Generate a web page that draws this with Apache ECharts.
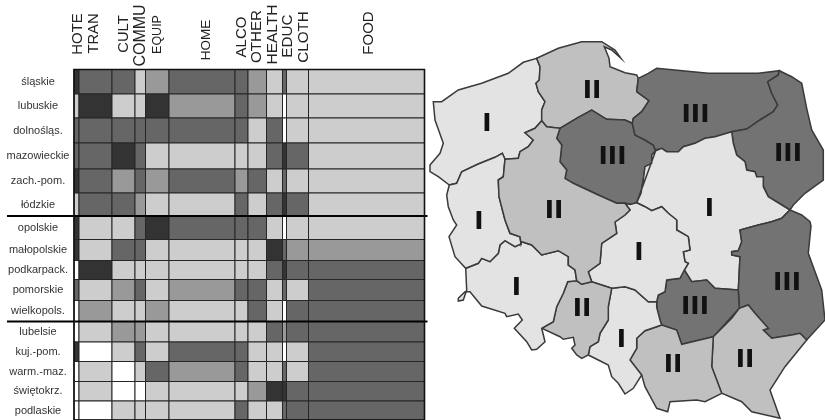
<!DOCTYPE html>
<html><head><meta charset="utf-8">
<style>html,body{margin:0;padding:0;background:#fff}#c{width:825px;height:420px}</style>
<script src="https://cdn.jsdelivr.net/npm/echarts@6/dist/echarts.min.js"></script>
</head><body><div id="c"></div>
<script>
const colNames=['HOTE','TRAN','CULT','COMMU','EQUIP','HOME','ALCO','OTHER','HEALTH','EDUC','CLOTH','FOOD'];
const colWeights=[5,33,23,10.5,23.5,66,13,18.5,16,4,22,116];
const rowNames=['śląskie','lubuskie','dolnośląs.','mazowieckie','zach.-pom.','łódzkie','opolskie','małopolskie','podkarpack.','pomorskie','wielkopols.','lubelsie','kuj.-pom.','warm.-maz.','świętokrz.','podlaskie'];
const rowWeights=[24.5,24,25,26,24,23,23.5,21,19,21,21,20.5,19.5,20,19.5,19];
const groupBreaks=[6,11];
const levels=[
 [4,3,3,1,2,3,3,2,1,3,1,1],
 [1,4,1,1,4,2,3,2,1,0,1,1],
 [3,3,3,3,3,3,3,1,3,0,1,1],
 [3,3,4,3,1,1,1,1,3,4,3,1],
 [4,3,2,3,2,3,2,3,1,3,1,1],
 [1,3,3,2,1,1,3,1,3,4,3,1],
 [4,1,1,3,4,3,3,3,1,0,1,1],
 [4,1,3,3,1,1,1,1,4,3,2,2],
 [0,4,1,1,1,1,1,1,3,4,3,3],
 [3,1,2,3,1,2,3,3,1,3,1,3],
 [0,2,1,1,2,1,1,3,1,0,3,3],
 [0,1,2,2,1,1,1,1,3,2,3,3],
 [4,0,1,3,1,3,3,1,1,0,1,3],
 [0,1,0,1,3,2,3,1,1,3,1,3],
 [0,1,0,0,1,1,1,2,4,4,3,3],
 [0,0,1,1,1,1,3,1,1,3,3,3]
];
const levelColors=['#ffffff','#cdcdcd','#999999','#666666','#333333'];
const headerX=[3.5,20,50,66.5,84,132,167.5,183,198.5,213.5,230,295];
const headerMidY=[34,33.5,34,35.5,34.5,40,37,36.5,34.5,36,37,33];
const headerSize=[15,14.7,14.7,16,12.5,13.5,15,15.2,15.5,15.3,15.2,15];

// Region outlines, traced borders shared between neighbouring regions
const zpCoast=[[449.3,185],[438.3,176.7],[430,171.7],[430,165],[440,153.3],[443.3,143.3],[435,120],[433.3,101.7],[441.7,101.7],[458.3,90],[481.7,83.3],[508.3,73.3],[523.3,62.3],[536.7,58.3]];
const zpPom=[[536.7,58.3],[540,66.7],[539.3,80],[536,83.3],[538.3,91.7],[545,101.7],[541.7,110],[541.7,120.7]];
const zpWielk=[[541.7,120.7],[535,128.3],[525,132.7],[533.3,140],[528.3,146.7],[520,151.7],[518.3,158.3],[505,159.3]];
const zpLub=[[505,159.3],[502.3,153.3],[495,157.3],[478.3,164],[461.7,171.7],[456.7,183.3],[449.3,185]];
const pomCoast=[[536.7,58.3],[558.3,48.3],[581.7,41.7],[601.7,41.7],[615,50],[621,58.3],[611.7,50],[604.3,46.7],[609,58.3],[610,66.7],[625,72.7],[636.7,75],[638.3,78.3]];
const pomWarm=[[638.3,78.3],[636.7,91.7],[649,100.7],[641.7,111.7],[633.3,118.3],[632.3,123.3]];
const pomKuj=[[632.3,123.3],[625,120],[606.7,119.3],[591.7,110],[578.3,117.3],[560,128.3]];
const pomWielk=[[560,128.3],[546.7,126.7],[541.7,120.7]];
const kujWarm=[[632.3,123.3],[635,135],[645,140],[653.3,145],[655.7,150.7]];
const kujMaz=[[655.7,150.7],[651.7,155],[651.7,163.3],[645,166.7],[643.3,180],[641,193.3],[636.7,202.7]];
const kujLodz=[[636.7,202.7],[630,204.5],[625,203.3]];
const kujWielk=[[560,128.3],[556.7,138.3],[561.7,145],[560,161.7],[566.7,170],[565,178.3],[573.3,183.3],[598.3,195],[616.7,203.3],[625,203.3]];
const warmCoast=[[638.3,78.3],[648.3,73.3],[656.7,68.3],[708.3,73.3],[758.3,73.3],[779.3,70.7]];
const warmPodl=[[779.3,70.7],[778.3,75],[767.7,81.7],[771.7,93.3],[777.7,105],[773.3,111.7],[760,120],[746.7,129],[731.7,131.7]];
const warmMaz=[[731.7,131.7],[715,136.7],[705,138.3],[695,143.3],[683.3,146.7],[678.3,151.7],[666.7,151.7],[661.7,148.3],[655.7,150.7]];
const podlEast=[[779.3,70.7],[791.7,76.7],[801.7,83.3],[806.7,108.3],[811.7,130],[823.3,150],[823.3,180],[805,193.3],[793.3,205],[790,210]];
const podlMaz=[[790,210],[768.3,196.7],[763.3,186.7],[763.3,176.7],[756.7,176.7],[755,171.7],[746.7,170],[745,161.7],[736.7,155],[733.3,143.3],[731.7,131.7]];
const mazLubel=[[790,210],[781.7,218.3],[771.7,221.7],[758.3,225],[740,230],[741.7,241.7],[738.3,250.7],[731.7,251.7],[731.7,255],[740,256.7],[738.3,290]];
const mazSwi=[[738.3,290],[715,288.3],[706.7,280],[691.7,281.7],[684.3,270]];
const mazLodz=[[684.3,270],[688.3,263.3],[685,261.7],[683.3,251.7],[690,250],[688.3,236.7],[676.7,230],[676.7,220],[668.3,213.3],[661.7,206.7],[651.7,210.7],[645,206.7],[636.7,202.7]];
const lubelEast=[[790,210],[801.7,215],[810,221.7],[811,226],[808.3,253.3],[821.7,290],[825,320],[806.7,340]];
const lubelPodk=[[806.7,340],[800,333.3],[791.7,335],[771.7,338.3],[763.3,330],[768.3,328.3],[755,313.3],[748.3,305],[739.3,308.3]];
const lubelSwi=[[739.3,308.3],[738.3,290]];
const swiLodz=[[684.3,270],[680,278.3],[666.7,280],[665,291.7],[658.3,295],[656.7,301.7]];
const swiSl=[[656.7,301.7],[656.7,307.3],[660,320],[661.7,325]];
const swiMal=[[661.7,325],[676.7,330],[681.7,344.3],[713.3,336.7]];
const swiPodk=[[713.3,336.7],[731.7,318.3],[739.3,308.3]];
const podkSouth=[[806.7,340],[785,366.7],[770,390],[780,418.3],[751.7,411.7],[741.7,401.7],[721.7,393.3]];
const podkMal=[[721.7,393.3],[711.7,366.7],[713.3,336.7]];
const malSouth=[[721.7,393.3],[705,401.7],[696.7,400],[670,401.7],[667.7,411.7],[656.7,408.3],[645,386.7],[641.7,375]];
const malSl=[[641.7,375],[630,360],[636.7,348.3],[636.7,338.3],[645,330.7],[661.7,325]];
const slSouth=[[641.7,375],[633.3,388.3],[625,394],[618.3,383.3],[611.7,376.7],[608.3,365],[598.3,360],[588.3,355]];
const slOpol=[[588.3,355],[590,346.7],[598.3,341.7],[600,333.3],[608.3,320],[608.3,306.7],[611.7,288.3]];
const slLodz=[[611.7,288.3],[625,286.7],[635,290],[648.3,301.7],[656.7,301.7]];
const opolLodz=[[611.7,288.3],[591.7,281.7]];
const lodzWielk=[[591.7,281.7],[588.3,271.7],[600,263.3],[601.7,243.3],[616.7,233.3],[615,222],[625,215],[630,210],[625,203.3]];
const opolDol=[[567.7,281.7],[576.7,280.7]];
const opolWielk=[[576.7,280.7],[581.7,284.3],[591.7,281.7]];
const opolSouth=[[588.3,355],[581.7,358.3],[576.7,355],[571.7,348.3],[575,345],[573.3,337.3],[563.3,339.3],[560,336.7],[541.7,328.3]];
const opolDolWest=[[541.7,328.3],[553.3,321.7],[556.7,306.7],[563.3,293.3],[567.7,281.7]];
const dolLub=[[465.7,268.3],[478.3,263.3],[481.7,258.3],[490,261.7],[498.3,253.3],[500,245],[505,240.7],[515,246.7],[521,244]];
const dolWielk=[[521,244],[521.7,241.7],[531.7,245],[541.7,255],[558.3,250.7],[568.3,256.7],[568.3,265],[575,270],[576.7,280.7]];
const dolSouth=[[541.7,328.3],[545,341.7],[536.7,349.3],[531.7,350],[526.7,341.7],[514.3,328.3],[522.3,320],[518.3,314],[506.7,316.7],[505,313.3],[481.7,306],[470,291.7],[465,291.7],[458.3,298.3],[458.3,301],[463.3,300],[466.7,290],[465.7,268.3]];
const lubWest=[[449.3,185],[446.7,195],[448.3,206.7],[453.3,220],[456.7,225],[449,236.7],[455,256.7],[465.7,268.3]];
const lubWielk=[[521,244],[520,236.7],[510,233.3],[505,220],[499,196.7],[498.3,180],[503.3,176.7],[505,159.3]];

const R=a=>a.slice().reverse();
const regionNames=['zachodniopomorskie','pomorskie','kujawsko-pomorskie','warmińsko-mazurskie','podlaskie','mazowieckie','lubelskie','świętokrzyskie','podkarpackie','małopolskie','śląskie','łódzkie','opolskie','dolnośląskie','lubuskie','wielkopolskie'];
const regionGroup=[1,2,3,3,3,1,3,3,2,2,1,1,2,1,1,2];
const regionCentre=[[487,122],[592,89],[612.5,155],[695.5,113],[788,152],[709.5,207],[787,281],[695,305],[745,357.5],[673,363],[621.5,337.5],[639,251],[582,307],[516.5,286],[479,220],[554,209]];
const regionRings=[
 [zpPom,zpWielk,zpLub,zpCoast],
 [pomCoast,pomWarm,pomKuj,pomWielk,R(zpPom)],
 [pomKuj,kujWielk,R(kujLodz),R(kujMaz),R(kujWarm)],
 [warmCoast,warmPodl,warmMaz,R(kujWarm),R(pomWarm)],
 [R(warmPodl),podlEast,podlMaz],
 [R(warmMaz),R(podlMaz),mazLubel,mazSwi,mazLodz,kujMaz],
 [lubelEast,lubelPodk,lubelSwi,R(mazLubel)],
 [mazSwi,swiLodz,swiSl,swiMal,swiPodk,lubelSwi],
 [R(swiPodk),R(lubelPodk),podkSouth,podkMal],
 [swiMal,R(podkMal),malSouth,malSl],
 [swiSl,R(malSl),slSouth,slOpol,slLodz],
 [R(mazLodz),swiLodz,R(slLodz),opolLodz,lodzWielk,R(kujLodz)],
 [opolDol,opolWielk,R(opolLodz),R(slOpol),opolSouth,opolDolWest],
 [dolLub,dolWielk,R(opolDol),R(opolDolWest),dolSouth],
 [zpLub,lubWest,dolLub,lubWielk],
 [R(pomWielk),kujWielk,R(lodzWielk),R(opolWielk),R(dolWielk),lubWielk,R(zpWielk)]
];
const groupColors={1:'#e3e3e3',2:'#c0c0c0',3:'#737373'};
const numerals={1:'I',2:'II',3:'III'};

const flip=p=>[p[0],420-p[1]];
const geo={type:'FeatureCollection',features:regionNames.map((name,i)=>({
  type:'Feature',
  properties:{name,cp:flip(regionCentre[i])},
  geometry:{type:'Polygon',coordinates:[[].concat(...regionRings[i]).map(flip)]}
}))};
echarts.registerMap('poland',geo);

const cum=a=>{const o=[0];a.forEach(v=>o.push(o[o.length-1]+v));return o;};
const xEdges=cum(colWeights), yEdges=cum(rowWeights);
const cells=[];
levels.forEach((row,r)=>row.forEach((v,c)=>cells.push([c,r,v])));

const chart=echarts.init(document.getElementById('c'),null,{renderer:'canvas'});
chart.setOption({
  animation:false,
  backgroundColor:'#fff',
  grid:{left:74,top:69.5,width:xEdges[xEdges.length-1],height:yEdges[yEdges.length-1],containLabel:false},
  xAxis:{type:'value',min:0,max:xEdges[xEdges.length-1],show:false},
  yAxis:{type:'value',min:0,max:yEdges[yEdges.length-1],inverse:true,show:false},
  series:[
   {type:'custom',coordinateSystem:'cartesian2d',clip:false,silent:true,data:cells,encode:{x:0,y:1},
    renderItem:(p,api)=>{
      const c=api.value(0),r=api.value(1),v=api.value(2);
      const a=api.coord([xEdges[c],yEdges[r]]),b=api.coord([xEdges[c+1],yEdges[r+1]]);
      return {type:'rect',shape:{x:a[0],y:a[1],width:b[0]-a[0],height:b[1]-a[1]},
        style:{fill:levelColors[v],stroke:'#262626',lineWidth:1}};
    }},
   {type:'custom',coordinateSystem:'cartesian2d',clip:false,silent:true,data:rowNames.map((n,i)=>[0,i]),encode:{x:0,y:1},
    renderItem:(p,api)=>{
      const i=api.value(1);
      const a=api.coord([0,(yEdges[i]+yEdges[i+1])/2]);
      return {type:'text',x:a[0]-36,y:a[1],style:{text:rowNames[i],fill:'#333',font:'11px "Liberation Sans"',align:'center',verticalAlign:'middle'}};
    }},
   {type:'custom',coordinateSystem:'cartesian2d',clip:false,silent:true,data:colNames.map((n,i)=>[i,0]),encode:{x:0,y:1},
    renderItem:(p,api)=>{
      const i=api.value(0);
      const a=api.coord([headerX[i],0]);
      return {type:'text',x:a[0],y:headerMidY[i],rotation:Math.PI/2,style:{text:colNames[i],fill:'#222',font:headerSize[i]+'px "Liberation Sans"',align:'center',verticalAlign:'middle'}};
    }},
   {type:'custom',coordinateSystem:'cartesian2d',clip:false,silent:true,data:groupBreaks.map(b=>[0,b]),encode:{x:0,y:1},
    renderItem:(p,api)=>{
      const b=api.value(1);
      const a=api.coord([0,yEdges[b]]),e=api.coord([xEdges[xEdges.length-1],yEdges[b]]);
      return {type:'line',shape:{x1:a[0]-67,y1:a[1],x2:e[0]+3,y2:e[1]},style:{stroke:'#000',lineWidth:2.2}};
    }},
   {type:'custom',coordinateSystem:'cartesian2d',clip:false,silent:true,data:[[0,0]],encode:{x:0,y:1},
    renderItem:(p,api)=>{
      const a=api.coord([0,0]),b=api.coord([xEdges[xEdges.length-1],yEdges[yEdges.length-1]]);
      return {type:'rect',shape:{x:a[0],y:a[1],width:b[0]-a[0],height:b[1]-a[1]},style:{fill:'none',stroke:'#111',lineWidth:1.6}};
    }},
   {type:'map',map:'poland',silent:true,roam:false,aspectScale:1,left:430,top:41.7,width:395,height:376.6,
    selectedMode:false,
    itemStyle:{borderColor:'#3a3a3a',borderWidth:1.5},
    label:{show:true,position:'inside',offset:[0,2.5],color:'#111',fontFamily:'DejaVu Sans',fontWeight:'bold',fontSize:25,
      formatter:p=>numerals[p.data.group]},
    data:regionNames.map((name,i)=>({name,value:regionGroup[i],group:regionGroup[i],
      itemStyle:{areaColor:groupColors[regionGroup[i]]}}))
   }
  ]
});
</script></body></html>
